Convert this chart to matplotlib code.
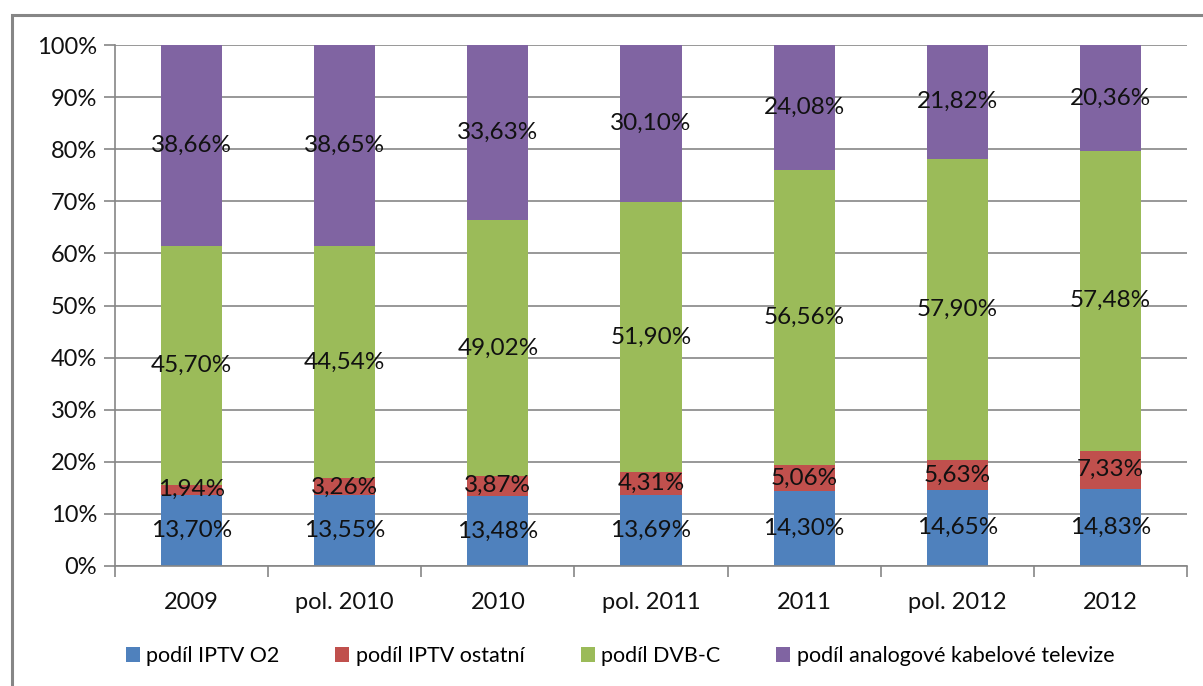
import matplotlib.pyplot as plt
import matplotlib.patches as mpatches
import numpy as np

# kategorie a hodnoty (procenta)
categories = ['2009', 'pol. 2010', '2010', 'pol. 2011', '2011', 'pol. 2012', '2012']
iptv_o2 = [13.70, 13.55, 13.48, 13.69, 14.30, 14.65, 14.83]
iptv_ostatni = [1.94, 3.26, 3.87, 4.31, 5.06, 5.63, 7.33]
dvb_c = [45.70, 44.54, 49.02, 51.90, 56.56, 57.90, 57.48]
analog = [38.66, 38.65, 33.63, 30.10, 24.08, 21.82, 20.36]

series_names = ['podíl IPTV O2', 'podíl IPTV ostatní', 'podíl DVB-C',
                'podíl analogové kabelové televize']
colors = ['#4F81BD', '#C0504D', '#9BBB59', '#8064A2']

plt.rcParams['font.family'] = ['Lato', 'DejaVu Sans']

fig = plt.figure(figsize=(12.03, 6.86), dpi=100)
ax = fig.add_axes([115 / 1203, 1 - 566 / 686, (1187 - 115) / 1203, (566 - 45) / 686])

# vnejsi ramecek grafu
fig.patches.append(mpatches.Rectangle((12 / 1203, -0.1), 1.2, 1 - 15 / 686 + 0.1,
                                      transform=fig.transFigure, fill=False,
                                      edgecolor='#868686', linewidth=2.2))

x = np.arange(len(categories))
bottom = np.zeros(len(categories))
for vals, name, col in zip([iptv_o2, iptv_ostatni, dvb_c, analog], series_names, colors):
    vals = np.array(vals)
    ax.bar(x, vals, 0.4, bottom=bottom, color=col, label=name, zorder=2)
    for xi, b, v in zip(x, bottom, vals):
        ax.text(xi, b + v / 2, ('%.2f%%' % v).replace('.', ','), ha='center', va='center',
                fontsize=17.5, color='#111111', zorder=3)
    bottom += vals

ax.set_xlim(-0.5, len(categories) - 0.5)
ax.set_ylim(0, 100)
ax.set_yticks(np.arange(0, 101, 10))
ax.set_yticklabels(['%d%%' % v for v in range(0, 101, 10)], fontsize=17, color='#111111')
ax.yaxis.grid(True, color='#868686', linewidth=1.2, zorder=0)

# popisky kategorii bez tiku, tiky na hranicich kategorii
ax.set_xticks(x)
ax.set_xticklabels(categories, fontsize=17, color='#111111')
ax.tick_params(axis='x', length=0, pad=19)
ax.set_xticks(np.arange(-0.5, len(categories)), minor=True)
ax.tick_params(axis='x', which='minor', length=8, color='#868686', width=1.2)
ax.tick_params(axis='y', length=8, color='#868686', width=1.2, pad=5)

for s in ['top', 'right']:
    ax.spines[s].set_visible(False)
for s in ['left', 'bottom']:
    ax.spines[s].set_color('#868686')
    ax.spines[s].set_linewidth(1.2)

fig.legend(loc='center', bbox_to_anchor=(620 / 1203, 1 - 656 / 686), ncol=4, frameon=False,
           fontsize=15.5, handlelength=0.65, handleheight=0.65, handletextpad=0.3,
           columnspacing=2.6)

fig.savefig('out.png', dpi=100)
